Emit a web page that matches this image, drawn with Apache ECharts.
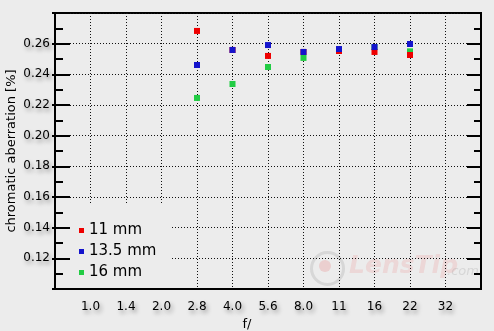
<!DOCTYPE html>
<html><head><meta charset="utf-8">
<script src="https://cdn.jsdelivr.net/npm/echarts@6/dist/echarts.min.js"></script>
<style>html,body{margin:0;padding:0;background:#ececec}#c{width:494px;height:331px}</style>
</head><body><div id="c"></div>
<script>
const categories = ['1.0','1.4','2.0','2.8','4.0','5.6','8.0','11','16','22','32'];
const seriesNames = ['11 mm','13.5 mm','16 mm'];
const values11  = [null,null,null,0.2683,0.2559,0.2520,0.2546,0.2552,0.2546,0.2526,null];
const values135 = [null,null,null,0.2461,0.2559,0.2591,0.2546,0.2565,0.2578,0.2598,null];
const values16  = [null,null,null,0.2246,0.2337,0.2448,0.2507,0.2552,0.2578,0.2550,null];
const colors = ['#ee0000','#1414cc','#22cc44'];
const yAxisTitle = 'chromatic aberration [%]';

const toPts = arr => arr.map((v,i)=> v==null?null:[i+1,v]).filter(p=>p);
const FONT = 'DejaVu Sans';
const shadow = {textShadowColor:'rgba(0,0,0,0.4)',textShadowBlur:4,textShadowOffsetX:2,textShadowOffsetY:3};
const dotted = {color:'#111',width:1,type:[1,2]};

const chart = echarts.init(document.getElementById('c'));
const yBase = {type:'value',min:0.10,max:0.28,interval:0.02};
chart.setOption({
  backgroundColor:'#ececec',
  animation:false,
  grid:{left:55,top:13,right:13,bottom:42,show:true,borderColor:'#000',borderWidth:2,backgroundColor:'transparent',outerBoundsMode:'none',containLabel:false},
  legend:{
    data:seriesNames, orient:'vertical', left:70, top:205,
    padding:[18,14,8,9], itemGap:6, itemWidth:5, itemHeight:5, icon:'rect',
    backgroundColor:'#ececec',
    textStyle:{fontFamily:FONT,fontSize:15,color:'#000',lineHeight:15}
  },
  xAxis:{
    type:'value',min:0,max:12,interval:1,
    axisLine:{show:true,lineStyle:{color:'#000',width:2}},
    axisTick:{show:false},
    splitLine:{show:true,lineStyle:dotted},
    axisLabel:{margin:12,fontFamily:FONT,fontSize:12,color:'#000',...shadow,
      formatter:v=>categories[v-1]||''},
    name:'f/',nameLocation:'middle',nameGap:22,
    nameTextStyle:{fontFamily:FONT,fontSize:13,color:'#000',padding:[0,42,0,0]}
  },
  yAxis:[
    Object.assign({},yBase,{
      position:'left',
      axisLine:{show:true,lineStyle:{color:'#000',width:2}},
      axisTick:{show:true,inside:true,length:15,lineStyle:{color:'#000',width:2}},
      minorTick:{show:true,splitNumber:2,length:8,lineStyle:{color:'#000',width:2}},
      splitLine:{show:true,lineStyle:dotted},
      axisLabel:{margin:5,fontFamily:FONT,fontSize:12,color:'#000',...shadow,
        formatter:v=>(v<0.115||v>0.275)?'':v.toFixed(2)}
    }),
    Object.assign({},yBase,{
      position:'right',
      axisLine:{show:true,lineStyle:{color:'#000',width:2}},
      axisTick:{show:true,inside:true,length:14,lineStyle:{color:'#000',width:2}},
      minorTick:{show:true,splitNumber:2,length:7,lineStyle:{color:'#000',width:2}},
      splitLine:{show:false},axisLabel:{show:false}
    }),
    Object.assign({},yBase,{
      position:'left',offset:0,
      axisLine:{show:false},
      axisTick:{show:true,inside:false,length:3,lineStyle:{color:'#000',width:2}},
      splitLine:{show:false},axisLabel:{show:false}
    })
  ],
  graphic:[
    {type:'text',x:12,y:151,rotation:Math.PI/2,z:10,
     style:{text:yAxisTitle,font:'13px "DejaVu Sans"',fill:'#000',align:'center',verticalAlign:'middle',
       shadowColor:'rgba(0,0,0,0.4)',shadowBlur:4,shadowOffsetX:2,shadowOffsetY:3}},
    {type:'circle',left:309,top:250,shape:{r:16},style:{fill:'none',stroke:'rgba(150,150,150,0.25)',lineWidth:3},z:-1},
    {type:'circle',left:319,top:260,shape:{r:6},style:{fill:'rgba(230,120,120,0.25)'},z:-1},
    {type:'text',left:349,top:254,style:{text:'LensTip',font:'italic bold 25px "DejaVu Sans"',fill:'rgba(235,150,150,0.25)'},z:-1},
    {type:'text',left:447,top:265,style:{text:'.com',font:'italic 13px "DejaVu Sans"',fill:'rgba(150,150,150,0.25)'},z:-1}
  ],
  series:[
    {name:'16 mm',type:'scatter',symbol:'rect',symbolSize:6,itemStyle:{color:colors[2],opacity:1},data:toPts(values16)},
    {name:'11 mm',type:'scatter',symbol:'rect',symbolSize:6,itemStyle:{color:colors[0],opacity:1},data:toPts(values11)},
    {name:'13.5 mm',type:'scatter',symbol:'rect',symbolSize:6,itemStyle:{color:colors[1],opacity:1},data:toPts(values135)}
  ]
});
</script></body></html>
